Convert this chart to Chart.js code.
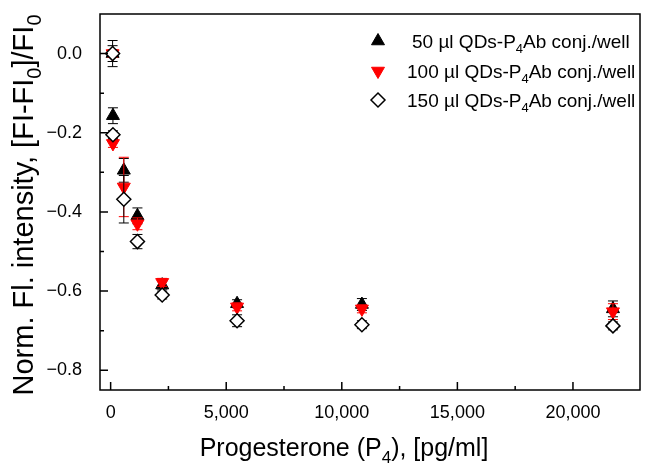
<!DOCTYPE html>
<html>
<head>
<meta charset="utf-8">
<script src="https://cdn.jsdelivr.net/npm/chart.js@4.4.1/dist/chart.umd.min.js"></script>
<style>
  html, body { margin: 0; padding: 0; background: #fff; }
  #wrap { width: 656px; height: 465px; }
</style>
</head>
<body>
<div id="wrap"><canvas id="chart" width="656" height="465"></canvas></div>
<script>
// =========================
// Data (in axis units)
// =========================
const progesterone = [85, 100, 570, 1160, 2230, 5470, 10870, 21730];

const conj50 = [0.0, -0.157, -0.295, -0.41, -0.585, -0.632, -0.634, -0.645];
const err50 = [0.02, 0.02, 0.03, 0.02, 0.01, 0.01, 0.015, 0.02];

const conj100 = [0.0, -0.227, -0.337, -0.43, -0.578, -0.64, -0.645, -0.652];
const err100 = [0.01, 0.01, 0.075, 0.015, 0.01, 0.01, 0.01, 0.02];

const conj150 = [0.0, -0.205, -0.368, -0.475, -0.61, -0.675, -0.685, -0.688];
const err150 = [0.033, 0.01, 0.06, 0.018, 0.01, 0.015, 0.01, 0.01];

const xTicks = [0, 5000, 10000, 15000, 20000];
const xMinor = [2500, 7500, 12500, 17500];
const yTicks = [-0.8, -0.6, -0.4, -0.2, 0];
const yMinor = [-0.7, -0.5, -0.3, -0.1];

const legendLabels = ["50 \u00b5l QDs-P", "100 \u00b5l QDs-P", "150 \u00b5l QDs-P"];

const FONT = "'Liberation Sans', Arial, sans-serif";

function toPoints(values){
    return values.map((v, i) => ({ x: progesterone[i], y: v }));
}

// =========================
// Text with subscripts
// =========================
function drawRich(ctx, parts, x, y, size, align){
    const subSize = Math.round(size * 0.68);
    let total = 0;
    const widths = parts.map(p => {
        ctx.font = (p.sub ? subSize : size) + "px " + FONT;
        const w = ctx.measureText(p.t).width;
        total += w;
        return w;
    });
    let cx = align === "center" ? x - total / 2 : x;
    ctx.textAlign = "left";
    ctx.textBaseline = "alphabetic";
    parts.forEach((p, i) => {
        ctx.font = (p.sub ? subSize : size) + "px " + FONT;
        ctx.fillText(p.t, cx, p.sub ? y + size * 0.28 : y);
        cx += widths[i];
    });
}

// =========================
// Error bars
// =========================
const errorBars = {
    id: "errorBars",
    beforeDatasetDraw(chart, args){
        const ds = chart.data.datasets[args.index];
        const yScale = chart.scales.y;
        const ctx = chart.ctx;
        ctx.save();
        ctx.strokeStyle = ds.errColor;
        ctx.lineWidth = 1;
        args.meta.data.forEach((el, i) => {
            const v = ds.data[i].y;
            const e = ds.errors[i];
            const top = yScale.getPixelForValue(v + e);
            const bot = yScale.getPixelForValue(v - e);
            ctx.beginPath();
            ctx.moveTo(el.x, top);
            ctx.lineTo(el.x, bot);
            ctx.moveTo(el.x - 5, top);
            ctx.lineTo(el.x + 5, top);
            ctx.moveTo(el.x - 5, bot);
            ctx.lineTo(el.x + 5, bot);
            ctx.stroke();
        });
        ctx.restore();
    }
};

// =========================
// Frame, inward ticks, titles, legend
// =========================
const decorations = {
    id: "decorations",
    afterDraw(chart){
        const ctx = chart.ctx;
        const a = chart.chartArea;
        const xs = chart.scales.x;
        const ys = chart.scales.y;

        ctx.save();
        ctx.strokeStyle = "#000";
        ctx.lineWidth = 1.5;
        ctx.strokeRect(a.left, a.top, a.right - a.left, a.bottom - a.top);

        ctx.beginPath();
        xTicks.forEach(v => {
            const px = xs.getPixelForValue(v);
            ctx.moveTo(px, a.bottom);
            ctx.lineTo(px, a.bottom - 8);
        });
        xMinor.forEach(v => {
            const px = xs.getPixelForValue(v);
            ctx.moveTo(px, a.bottom);
            ctx.lineTo(px, a.bottom - 4);
        });
        yTicks.forEach(v => {
            const py = ys.getPixelForValue(v);
            ctx.moveTo(a.left, py);
            ctx.lineTo(a.left + 8, py);
        });
        yMinor.forEach(v => {
            const py = ys.getPixelForValue(v);
            ctx.moveTo(a.left, py);
            ctx.lineTo(a.left + 4, py);
        });
        ctx.stroke();

        ctx.fillStyle = "#000";

        // x title
        drawRich(ctx, [
            { t: "Progesterone (P" }, { t: "4", sub: true }, { t: "), [pg/ml]" }
        ], 344, 456, 25, "center");

        // y title
        ctx.save();
        ctx.translate(33, 205);
        ctx.rotate(-Math.PI / 2);
        drawRich(ctx, [
            { t: "Norm. Fl. intensity, [FI-FI" }, { t: "0", sub: true },
            { t: "]/FI" }, { t: "0", sub: true }
        ], 0, 0, 29, "center");
        ctx.restore();

        // legend
        const rows = [41, 71, 100];
        const textX = [412, 407, 407];
        chart.data.datasets.forEach((ds, i) => {
            ctx.fillStyle = ds.backgroundColor;
            ctx.strokeStyle = ds.borderColor;
            ctx.lineWidth = ds.borderWidth;
            Chart.helpers.drawPoint(ctx, {
                pointStyle: ds.pointStyle,
                radius: ds.pointRadius,
                rotation: ds.rotation || 0,
                borderWidth: ds.borderWidth
            }, 378, rows[i]);
            ctx.fillStyle = "#000";
            drawRich(ctx, [
                { t: legendLabels[i] }, { t: "4", sub: true }, { t: "Ab conj./well" }
            ], textX[i], rows[i] + 7, 19, "left");
        });

        ctx.restore();
    }
};

// =========================
// Chart
// =========================
new Chart(document.getElementById("chart"), {

    type: "scatter",

    data: {
        datasets: [
            {
                data: toPoints(conj50),
                errors: err50,
                errColor: "#000",
                pointStyle: "triangle",
                pointRadius: 7.5,
                backgroundColor: "#000",
                borderColor: "#000",
                borderWidth: 1,
                order: 3
            },
            {
                data: toPoints(conj100),
                errors: err100,
                errColor: "#ff0000",
                pointStyle: "triangle",
                rotation: 180,
                pointRadius: 7.5,
                backgroundColor: "#ff0000",
                borderColor: "#ff0000",
                borderWidth: 1,
                order: 2
            },
            {
                data: toPoints(conj150),
                errors: err150,
                errColor: "#000",
                pointStyle: "rectRot",
                pointRadius: 7,
                backgroundColor: "#fff",
                borderColor: "#000",
                borderWidth: 1.5,
                order: 1
            }
        ]
    },

    options: {
        responsive: false,
        animation: false,
        events: [],
        layout: { padding: { top: 14, right: 16, left: 0, bottom: 0 } },
        plugins: {
            legend: { display: false },
            tooltip: { enabled: false }
        },
        scales: {
            x: {
                type: "linear",
                min: -460,
                max: 22900,
                afterBuildTicks: s => { s.ticks = xTicks.map(v => ({ value: v })); },
                afterFit: s => {
                    s.height = 75;
                    s.paddingLeft = 0;
                    s.paddingRight = 0;
                },
                grid: { display: false, drawTicks: false },
                border: { display: false },
                ticks: {
                    color: "#000",
                    padding: 12,
                    maxRotation: 0,
                    font: { family: FONT, size: 18 },
                    callback: v => v.toLocaleString("en-US")
                }
            },
            y: {
                min: -0.85,
                max: 0.1,
                afterBuildTicks: s => { s.ticks = yTicks.map(v => ({ value: v })); },
                afterFit: s => {
                    s.width = 100;
                    s.paddingTop = 0;
                    s.paddingBottom = 0;
                },
                grid: { display: false, drawTicks: false },
                border: { display: false },
                ticks: {
                    color: "#000",
                    padding: 18,
                    font: { family: FONT, size: 18 },
                    callback: v => (v < -1e-9 ? "\u2212" : "") + Math.abs(v).toFixed(1)
                }
            }
        }
    },

    plugins: [errorBars, decorations]

});
</script>
</body>
</html>
